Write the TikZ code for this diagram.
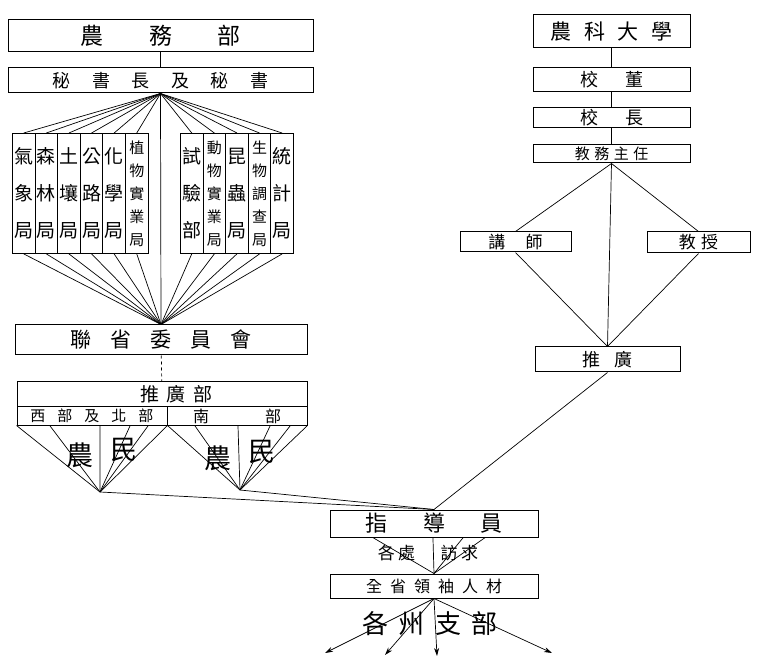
\documentclass[tikz,border=0pt]{standalone}
\usepackage{fontspec}
\newfontfamily\cjk{Noto Sans CJK TC}
\usetikzlibrary{calc,positioning,arrows.meta}

\begin{document}
\begin{tikzpicture}[x=1pt,y=-1pt,
    box/.style={draw,rectangle,line width=1pt,inner sep=0pt,
                font=\cjk\fontsize{18}{18}\selectfont},
    col/.style={draw,rectangle,line width=0.9pt,inner sep=0pt,
                minimum width=22.6pt,minimum height=120pt,
                anchor=north west,align=center},
    tri/.style={col,font=\cjk\fontsize{19}{37}\selectfont},
    penta/.style={col,font=\cjk\fontsize{15}{23}\selectfont},
    ln/.style={line width=0.7pt},
    arr/.style={-{Stealth[length=8pt,width=5pt]},line width=0.7pt}]
  \useasboundingbox (0,0) rectangle (764,671);

  % ministry side
  \node[box,minimum width=305pt,minimum height=32pt,font=\cjk\fontsize{23}{23}\selectfont]
    (mini) at (160.5,36) {農\hspace{2em}務\hspace{2em}部};
  \node[box,minimum width=305pt,minimum height=25pt] (sec) at (160.5,80.5)
    {秘\hspace{1.2em}書\hspace{1.2em}長\hspace{1.2em}及\hspace{1.2em}秘\hspace{1.2em}書};
  \draw[ln] (mini) -- (sec);

  % bureaus
  \foreach \t [count=\i from 0] in {氣\\象\\局,森\\林\\局,土\\壤\\局,公\\路\\局,化\\學\\局}
    \node[tri] (l\i) at (12+22.6*\i,133) {\t};
  \node[penta] (l5) at (125,133) {植\\物\\實\\業\\局};
  \node[tri] (r0) at (180,133) {試\\驗\\部};
  \node[penta] (r1) at (202.6,133) {動\\物\\實\\業\\局};
  \node[tri] (r2) at (225.2,133) {昆\\蟲\\局};
  \node[penta] (r3) at (247.8,133) {生\\物\\調\\查\\局};
  \node[tri] (r4) at (270.4,133) {統\\計\\局};

  \node[box,minimum width=292pt,minimum height=30pt,font=\cjk\fontsize{21}{21}\selectfont]
    (unite) at (161,340) {聯\hspace{0.9em}省\hspace{0.9em}委\hspace{0.9em}員\hspace{0.9em}會};
  \foreach \c in {l0,l1,l2,l3,l4,l5,r0,r1,r2,r3,r4} {
    \draw[ln] (sec.south) -- (\c.north);
    \draw[ln] (\c.south) -- (unite.north);
  }
  \draw[ln] (sec.south) -- (unite.north);

  % extension
  \node[box,minimum width=290pt,minimum height=25pt,font=\cjk\fontsize{19}{19}\selectfont]
    (extd) at (162,394.5) {\hspace{1.5em}推\hspace{0.4em}廣\hspace{0.4em}部};
  \draw[ln,dashed] (unite) -- (extd);
  \node[box,minimum width=150pt,minimum height=18pt,font=\cjk\fontsize{15}{15}\selectfont]
    (west) at (92,416) {西\hspace{0.8em}部\hspace{0.8em}及\hspace{0.8em}北\hspace{0.8em}部};
  \node[box,minimum width=140pt,minimum height=18pt,font=\cjk\fontsize{16}{16}\selectfont]
    (south) at (237,416) {南\hspace{3.5em}部};

  \coordinate (tipL) at (100,492);
  \coordinate (tipR) at (240,490);
  \draw[ln] (west.south west) -- (tipL) -- (west.south east) -- (tipR) -- (south.south east);
  \foreach \f in {0.22,0.553,0.753,0.873}
    \draw[ln] ($(west.south west)!\f!(west.south east)$) -- (tipL);
  \foreach \f in {0.2,0.507,0.736,0.879}
    \draw[ln] ($(south.south west)!\f!(south.south east)$) -- (tipR);
  \node[font=\cjk\fontsize{27}{27}\selectfont] (fa1) at (80,455) {農};
  \node[font=\cjk\fontsize{27}{27}\selectfont] (fb1) at (124,450) {民};
  \node[font=\cjk\fontsize{27}{27}\selectfont] (fa2) at (218,458) {農};
  \node[font=\cjk\fontsize{27}{27}\selectfont] (fb2) at (262,452) {民};

  % college side
  \node[box,minimum width=157pt,minimum height=33pt,font=\cjk\fontsize{21}{21}\selectfont]
    (coll) at (611.5,31.5) {農\hspace{0.6em}科\hspace{0.6em}大\hspace{0.6em}學};
  \node[box,minimum width=157pt,minimum height=24pt] (board) at (611.5,80) {校\hspace{1.5em}董};
  \node[box,minimum width=157pt,minimum height=20pt] (pres) at (611.5,118) {校\hspace{1.5em}長};
  \node[box,minimum width=157pt,minimum height=18pt,font=\cjk\fontsize{15}{15}\selectfont]
    (dean) at (611.5,154) {教\hspace{0.3em}務\hspace{0.3em}主\hspace{0.3em}任};
  \draw[ln] (coll) -- (board) -- (pres) -- (dean);
  \node[box,minimum width=111pt,minimum height=20pt,font=\cjk\fontsize{17}{17}\selectfont]
    (lect) at (515.5,242) {講\hspace{1.2em}師};
  \node[box,minimum width=103pt,minimum height=21pt,font=\cjk\fontsize{17}{17}\selectfont]
    (prof) at (698.5,242.5) {教\hspace{0.3em}授};
  \node[box,minimum width=145pt,minimum height=25pt] (ext) at (607.5,359.5) {推\hspace{0.8em}廣};
  \draw[ln] (dean.south) -- (lect.north);
  \draw[ln] (dean.south) -- (prof.north);
  \draw[ln] (dean.south) -- (ext.north);
  \draw[ln] (lect.south) -- (ext.north);
  \draw[ln] (prof.south) -- (ext.north);

  % agents
  \node[box,minimum width=208pt,minimum height=27pt,font=\cjk\fontsize{22}{22}\selectfont]
    (guide) at (434,523.5) {指\hspace{1.6em}導\hspace{1.6em}員};
  \draw[ln] (tipL) -- (guide.north);
  \draw[ln] (tipR) -- (guide.north);
  \draw[ln] (ext.south) -- (guide.north);
  \node[box,minimum width=208pt,minimum height=24pt,font=\cjk\fontsize{16}{16}\selectfont]
    (lead) at (434,586) {全\hspace{0.5em}省\hspace{0.5em}領\hspace{0.5em}袖\hspace{0.5em}人\hspace{0.5em}材};
  \foreach \f in {0.207,0.495,0.64,0.745}
    \draw[ln] ($(guide.south west)!\f!(guide.south east)$) -- (lead.north);
  \node[font=\cjk\fontsize{17}{17}\selectfont] (seek) at (428,553)
    {各\hspace{0.2em}處\hspace{1.5em}訪\hspace{0.2em}求};

  \coordinate (d1) at (325,653);
  \coordinate (d2) at (385,655);
  \coordinate (d3) at (437,656);
  \coordinate (d4) at (552,653);
  \foreach \d in {d1,d2,d3,d4}
    \draw[arr] (lead.south) -- (\d);
  \node[font=\cjk\fontsize{26}{26}\selectfont] (county) at (430,624)
    {各\hspace{0.4em}州\hspace{0.4em}支\hspace{0.4em}部};
\end{tikzpicture}
\end{document}
